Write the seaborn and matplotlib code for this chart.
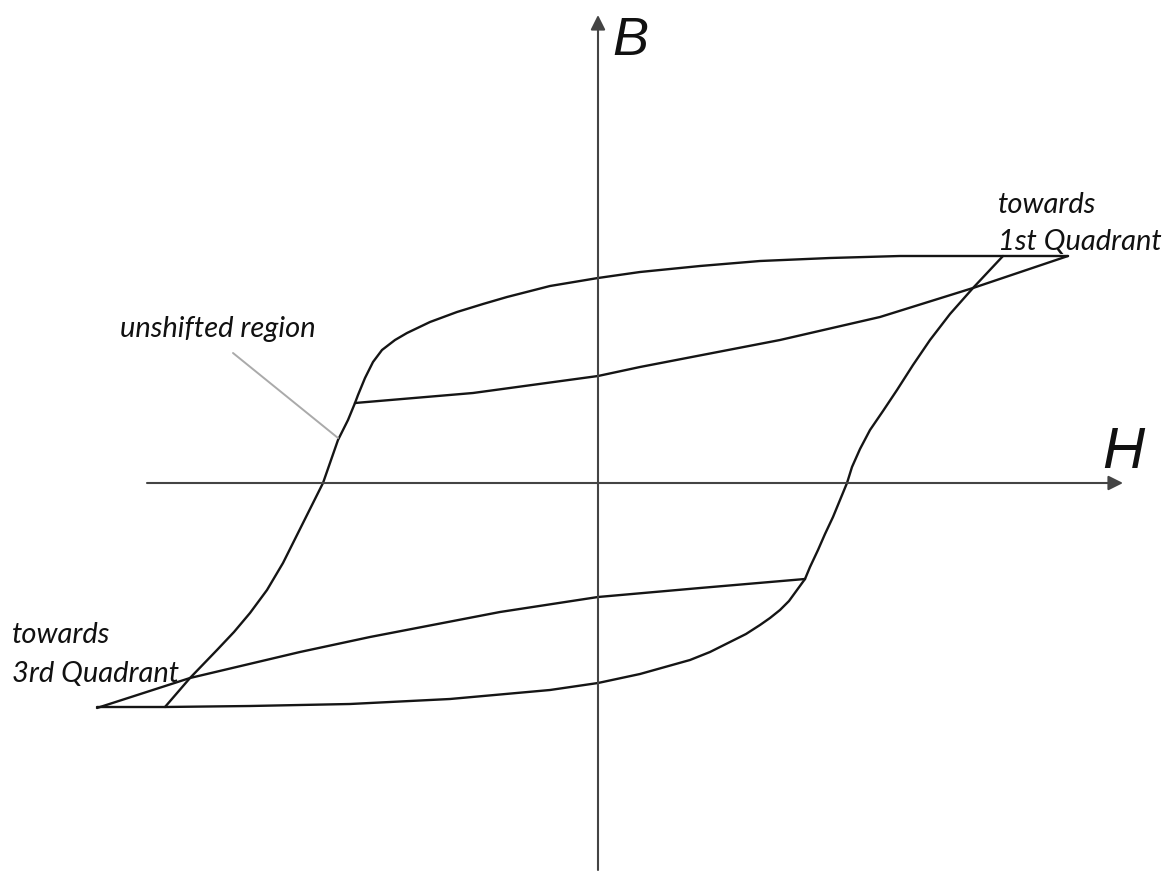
import numpy as np
import matplotlib
matplotlib.use('Agg')
import matplotlib.pyplot as plt
import seaborn as sns

# hysteresis loop branches (H, B in arbitrary units)
top_H = [-2.43, -2.40, -2.33, -2.25, -2.16, -2.03, -1.91, -1.68, -1.41, -1.15, -0.91, -0.48, 0.0, 0.42, 1.02, 1.62, 2.32, 3.02, 4.05, 4.70]
top_B = [0.80, 0.88, 1.05, 1.21, 1.33, 1.43, 1.50, 1.61, 1.71, 1.79, 1.86, 1.97, 2.05, 2.11, 2.17, 2.22, 2.25, 2.27, 2.27, 2.27]

upper_inner_H = [-2.43, -1.25, 0.0, 0.42, 1.82, 2.82, 3.75, 4.70]
upper_inner_B = [0.80, 0.90, 1.07, 1.16, 1.43, 1.66, 1.95, 2.27]

right_H = [4.05, 3.75, 3.52, 3.32, 3.15, 2.99, 2.85, 2.72, 2.62, 2.54, 2.49, 2.42, 2.35, 2.27, 2.20, 2.12, 2.07]
right_B = [2.27, 1.95, 1.69, 1.43, 1.18, 0.93, 0.72, 0.53, 0.34, 0.16, 0.0, -0.17, -0.34, -0.51, -0.67, -0.84, -0.96]

bottom_H = [2.07, 1.99, 1.91, 1.82, 1.72, 1.62, 1.48, 1.32, 1.12, 0.92, 0.42, 0.0, -0.48, -1.48, -2.48, -3.48, -4.33, -5.01]
bottom_B = [-0.96, -1.07, -1.18, -1.27, -1.35, -1.42, -1.51, -1.59, -1.69, -1.77, -1.91, -2.00, -2.07, -2.16, -2.21, -2.23, -2.24, -2.24]

lower_inner_H = [2.07, 1.02, 0.0, -0.98, -2.28, -2.98, -4.08, -5.01]
lower_inner_B = [-0.96, -1.05, -1.14, -1.29, -1.54, -1.69, -1.95, -2.25]

left_H = [-4.33, -4.08, -3.81, -3.64, -3.48, -3.31, -3.15, -2.95, -2.75, -2.60, -2.50, -2.43]
left_B = [-2.24, -1.95, -1.67, -1.49, -1.30, -1.07, -0.80, -0.40, 0.0, 0.43, 0.63, 0.80]

branches = [(top_H, top_B), (upper_inner_H, upper_inner_B), (right_H, right_B),
            (bottom_H, bottom_B), (lower_inner_H, lower_inner_B), (left_H, left_B)]

sns.set_style('white')
plt.rcParams['font.family'] = ['Lato', 'DejaVu Sans']

fig = plt.figure(figsize=(11.76, 8.71), dpi=100)
ax = fig.add_axes([0, 0, 1, 1])
ax.set_xlim(-5.98, 5.78)
ax.set_ylim(-3.88, 4.83)
ax.axis('off')

# axes with arrowheads
ax.annotate('', xy=(5.25, 0), xytext=(-4.51, 0),
            arrowprops=dict(arrowstyle='-|>', color='#444444', lw=1.5, mutation_scale=22,
                            shrinkA=0, shrinkB=0))
ax.annotate('', xy=(0, 4.68), xytext=(0, -3.87),
            arrowprops=dict(arrowstyle='-|>', color='#444444', lw=1.5, mutation_scale=22,
                            shrinkA=0, shrinkB=0))

for h, b in branches:
    sns.lineplot(x=h, y=b, sort=False, estimator=None, color='#151515', lw=1.7, ax=ax)

# leader line for the annotation
ax.plot([-3.65, -2.60], [1.30, 0.45], color='#aaaaaa', lw=1.4)

lab = dict(fontsize=21, style='italic', color='#111111', ha='left', va='baseline')
ax.text(4.00, 2.70, 'towards', **lab)
ax.text(4.00, 2.33, '1st Quadrant', **lab)
ax.text(-5.86, -1.60, 'towards', **lab)
ax.text(-5.86, -1.99, '3rd Quadrant', **lab)
ax.text(-4.78, 1.46, 'unshifted region', **lab)

ax.text(0.14, 4.28, 'B', fontsize=39, style='italic', family=['Liberation Sans'],
        ha='left', va='baseline', color='#111111')
ax.text(5.04, 0.15, 'H', fontsize=42, style='italic', family=['Liberation Sans'],
        ha='left', va='baseline', color='#111111')

fig.savefig('out.png', dpi=100)
